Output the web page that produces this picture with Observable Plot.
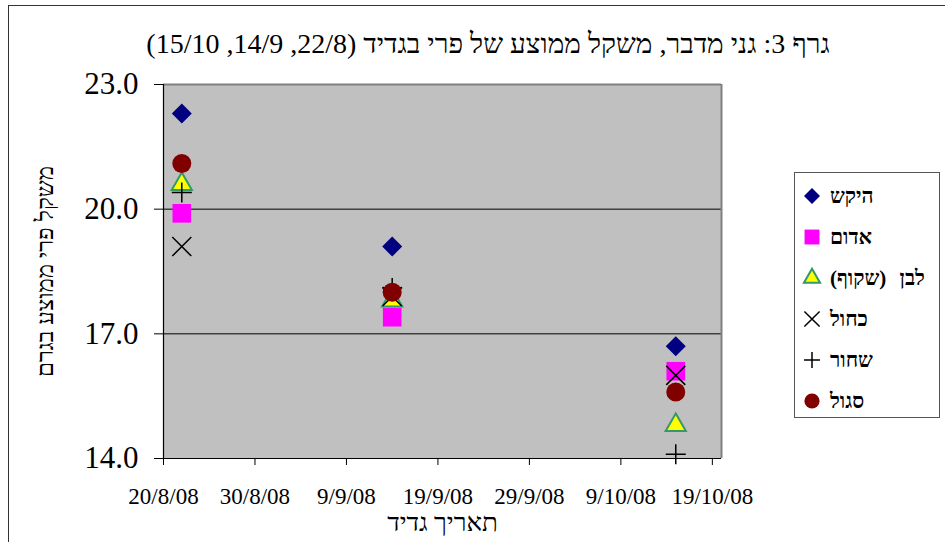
<!DOCTYPE html>
<html>
<head>
<meta charset="utf-8">
<script src="https://cdn.jsdelivr.net/npm/d3@7"></script>
<script src="https://cdn.jsdelivr.net/npm/@observablehq/plot@0.6"></script>
<style>
  html, body { margin: 0; padding: 0; background: white; overflow: hidden; width: 945px; height: 542px; }
  body { position: relative; font-family: "Liberation Serif", "DejaVu Serif", "Times New Roman", serif; }
  #border { position: absolute; left: 8px; top: 5px; width: 960px; height: 560px; border: 1.5px solid #333; box-sizing: border-box; }
  #chart { position: absolute; left: 0; top: 0; }
  #title { position: absolute; left: 88px; width: 800px; top: 28px; text-align: center; font-size: 28px; white-space: nowrap; direction: rtl; }
  #legend { position: absolute; left: 794px; top: 172px; width: 146px; height: 246px; border: 1px solid #555; background: white; box-sizing: border-box; }
  .row { position: absolute; left: 0; height: 24px; }
  .row svg { position: absolute; left: 5px; top: 0; }
  .row span { position: absolute; left: 35px; white-space: nowrap; font-weight: bold; font-size: 21px; direction: rtl; unicode-bidi: embed; line-height: 24px; top: 0; word-spacing: 8px; }
</style>
</head>
<body>
<div id="border"></div>
<div id="chart"></div>
<div id="title"></div>
<div id="legend"></div>
<script>
// ---- data ----
const titleText = "גרף 3: גני מדבר, משקל ממוצע של פרי בגדיד (22/8, 14/9, 15/10)";
const xLabel = "תאריך גדיד";
const yLabel = "משקל פרי ממוצע בגרם";
const harvestDates = ["2008-08-22", "2008-09-14", "2008-10-15"];
const seriesNames = ["היקש", "אדום", "לבן (שקוף)", "כחול", "שחור", "סגול"];
const heikesh = [22.3, 19.1, 16.7];
const adom = [19.9, 17.4, 16.1];
const lavan = [20.6, 17.8, 14.8];
const kachol = [19.1, 17.9, 16.0];
const shachor = [20.4, 18.1, 14.1];
const sagol = [21.1, 18.0, 15.6];
const seriesValues = [heikesh, adom, lavan, kachol, shachor, sagol];
const yTicks = [14, 17, 20, 23];
const xTicks = ["2008-08-20", "2008-08-30", "2008-09-09", "2008-09-19", "2008-09-29", "2008-10-09", "2008-10-19"];
const xDomain = ["2008-08-20", "2008-10-20"];
const yDomain = [14, 23];

// ---- styles ----
const styles = [
  {symbol: "diamond2", d3sym: d3.symbolDiamond2, r: 9, fill: "#000080", stroke: "none", sw: 0},
  {symbol: "square", d3sym: d3.symbolSquare, r: 10.5, fill: "#FF00FF", stroke: "none", sw: 0},
  {symbol: "triangle", d3sym: d3.symbolTriangle, r: 7.5, fill: "#FFFF00", stroke: "#339966", sw: 2},
  {symbol: "times", d3sym: d3.symbolTimes, r: 8.7, fill: "none", stroke: "black", sw: 1.5},
  {symbol: "plus", d3sym: d3.symbolPlus, r: 6.5, fill: "none", stroke: "black", sw: 1.5},
  {symbol: "circle", d3sym: d3.symbolCircle, r: 9.5, fill: "#800000", stroke: "none", sw: 0}
];

const parse = d3.utcParse("%Y-%m-%d");
const fmt = d => `${d.getUTCDate()}/${d.getUTCMonth() + 1}/${String(d.getUTCFullYear()).slice(2)}`;
const xd = xDomain.map(parse);

const dotMarks = seriesValues.map((vals, i) => {
  const s = styles[i];
  const data = harvestDates.map((d, j) => ({date: parse(d), value: vals[j], series: seriesNames[i]}));
  return Plot.dot(data, {
    x: "date", y: "value", symbol: () => s.symbol, r: s.r,
    fill: s.fill, stroke: s.stroke, strokeWidth: s.sw
  });
});

const plot = Plot.plot({
  width: 945, height: 542,
  marginLeft: 163, marginRight: 224, marginTop: 84, marginBottom: 84,
  style: {fontFamily: "Liberation Serif, DejaVu Serif, Times New Roman, serif", background: "transparent", color: "black", overflow: "visible"},
  x: {type: "utc", domain: xd},
  y: {domain: yDomain},
  symbol: {type: "identity"},
  marks: [
    Plot.frame({fill: "#c0c0c0", stroke: null}),
    Plot.ruleY(yTicks.filter(t => t > yDomain[0] && t < yDomain[1]), {stroke: "black", strokeWidth: 1}),
    Plot.ruleY([yDomain[1]], {stroke: "#808080", strokeWidth: 2}),
    Plot.ruleX([xd[1]], {stroke: "#808080", strokeWidth: 2}),
    Plot.ruleY([yDomain[0]], {stroke: "black", strokeWidth: 1.2}),
    Plot.ruleX([xd[0]], {stroke: "black", strokeWidth: 1.2}),
    Plot.axisY({ticks: yTicks, tickFormat: d => d.toFixed(1), fontSize: 31, tickSize: 9, tickPadding: 16, label: null}),
    Plot.axisX({ticks: xTicks.map(parse), tickFormat: fmt, fontSize: 23, tickSize: 7, tickPadding: 22, label: null}),
    Plot.text([yLabel], {frameAnchor: "left", dx: -118, rotate: -90, fontSize: 24, textAnchor: "middle", lineAnchor: "middle"}),
    Plot.text([xLabel], {frameAnchor: "bottom", dy: 64, fontSize: 26, textAnchor: "middle", lineAnchor: "middle"}),
    ...dotMarks
  ]
});
document.getElementById("chart").appendChild(plot);
document.getElementById("title").textContent = titleText;

// legend
const legend = d3.select("#legend");
const rowTops = seriesNames.map((_, i) => 11 + i * 41);
seriesNames.forEach((name, i) => {
  const s = styles[i];
  const row = legend.append("div").attr("class", "row").style("top", rowTops[i] + "px").style("width", "144px");
  const svg = row.append("svg").attr("width", 24).attr("height", 24);
  const rr = s.r * 0.8;
  svg.append("path")
    .attr("transform", "translate(12,12)")
    .attr("d", d3.symbol(s.d3sym, Math.PI * rr * rr)())
    .attr("fill", s.fill).attr("stroke", s.stroke).attr("stroke-width", s.sw);
  row.append("span").text(name);
});
</script>
</body>
</html>
